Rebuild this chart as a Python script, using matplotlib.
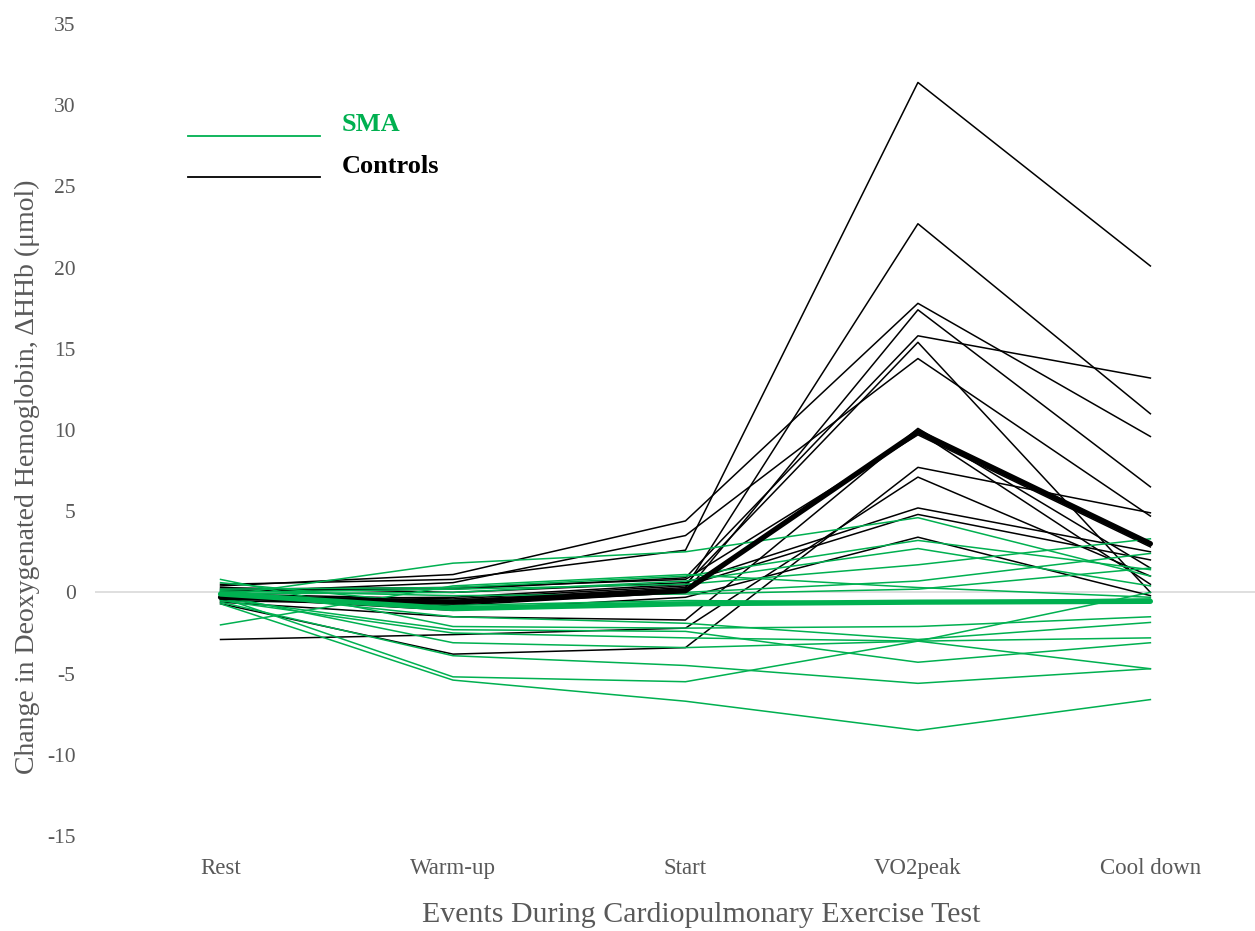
import numpy as np
import matplotlib
matplotlib.use("Agg")
import matplotlib.pyplot as plt

plt.rcParams['font.family'] = ['Liberation Serif', 'DejaVu Serif']
plt.rcParams['axes.unicode_minus'] = False

events = ['Rest', 'Warm-up', 'Start', 'VO2peak', 'Cool down']

# Individual control subjects (Rest, Warm-up, Start, VO2peak, Cool down)
controls = [
    [0.5, 0.8, 2.6, 31.4, 20.1],
    [-0.3, -0.5, 0.3, 22.7, 11.0],
    [0.4, 1.1, 4.4, 17.8, 9.6],
    [-0.5, -0.8, 0.0, 17.4, 6.5],
    [0.1, 0.2, 0.9, 15.8, 13.2],
    [-0.4, -0.3, 0.5, 15.4, 0.0],
    [0.0, 0.6, 3.5, 14.4, 4.7],
    [-0.6, -1.5, -1.7, 10.1, 1.5],
    [-0.2, -0.7, 0.2, 9.9, 0.5],
    [0.2, 0.3, 0.8, 9.7, 2.8],
    [-0.7, -3.8, -3.4, 7.7, 4.9],
    [-2.9, -2.6, -2.2, 7.1, 1.0],
    [0.3, 0.0, 0.6, 5.2, 2.5],
    [-0.1, -0.4, 0.4, 4.8, 2.0],
    [-0.3, -1.1, -0.3, 3.4, -0.2],
]
controls_mean = [-0.3, -0.6, 0.1, 9.9, 3.0]

# Individual SMA subjects
sma = [
    [-0.2, 1.8, 2.5, 4.6, 1.0],
    [0.2, 0.3, 1.0, 3.2, 1.4],
    [-0.1, 0.0, 0.7, 2.7, 0.4],
    [0.0, 0.2, 0.5, 1.7, 3.3],
    [-0.3, -0.5, 0.0, 0.7, 2.4],
    [0.1, -0.2, -0.1, 0.2, 1.5],
    [0.8, -2.1, -2.2, -2.1, -1.5],
    [-2.0, 0.4, 1.1, 0.3, -0.3],
    [-0.4, -2.3, -2.4, -4.3, -3.1],
    [-0.5, -2.5, -2.8, -3.0, -4.7],
    [-0.2, -3.1, -3.4, -3.0, -2.8],
    [-0.6, -3.9, -4.5, -5.6, -4.7],
    [-0.3, -5.2, -5.5, -3.0, 0.0],
    [-0.7, -5.4, -6.7, -8.5, -6.6],
    [0.0, -1.5, -1.9, -2.9, -1.85],
    [0.6, -0.8, -0.5, -0.6, -0.4],
]
sma_mean = [-0.1, -1.0, -0.7, -0.6, -0.55]

GREEN = '#00B050'
GRAY = '#595959'

fig = plt.figure(figsize=(12.55, 9.31), dpi=100)
ax = fig.add_axes([95 / 1255, 95 / 931, 1160 / 1255, 812 / 931])

x = np.arange(len(events))
ax.axhline(0, color='#d9d9d9', lw=1.2, zorder=0)

for row in controls:
    ax.plot(x, row, color='black', lw=1.1)
for row in sma:
    ax.plot(x, row, color=GREEN, lw=1.1)

ax.plot(x, controls_mean, color='black', lw=3.8, solid_capstyle='round')
ax.plot(x, sma_mean, color=GREEN, lw=3.8, solid_capstyle='round')

ax.set_xlim(-0.54, 4.45)
ax.set_ylim(-15, 35)
ax.set_yticks(np.arange(-15, 36, 5))
ax.set_xticks(x)
ax.set_xticklabels(events)
ax.tick_params(length=0, labelcolor=GRAY)
ax.tick_params(axis='x', pad=16, labelsize=16.5)
ax.tick_params(axis='y', pad=14, labelsize=15.5)
for side in ax.spines.values():
    side.set_visible(False)

fig.text(701 / 1255, 1 - 915 / 931, 'Events During Cardiopulmonary Exercise Test',
         fontsize=21.5, color=GRAY, ha='center', va='center')
fig.text(27 / 1255, 1 - 477 / 931, 'Change in Deoxygenated Hemoglobin, ΔHHb (μmol)',
         fontsize=20, color=GRAY, ha='center', va='center', rotation=90)

# Hand-made legend in the upper left
ax.plot([-0.14, 0.43], [28.1, 28.1], color=GREEN, lw=1.3)
ax.plot([-0.14, 0.43], [25.55, 25.55], color='black', lw=1.3)
ax.text(0.52, 28.8, 'SMA', color=GREEN, fontsize=19, fontweight='bold', va='center')
ax.text(0.52, 26.2, 'Controls', color='black', fontsize=19, fontweight='bold', va='center')

fig.savefig('out.png', dpi=100)
